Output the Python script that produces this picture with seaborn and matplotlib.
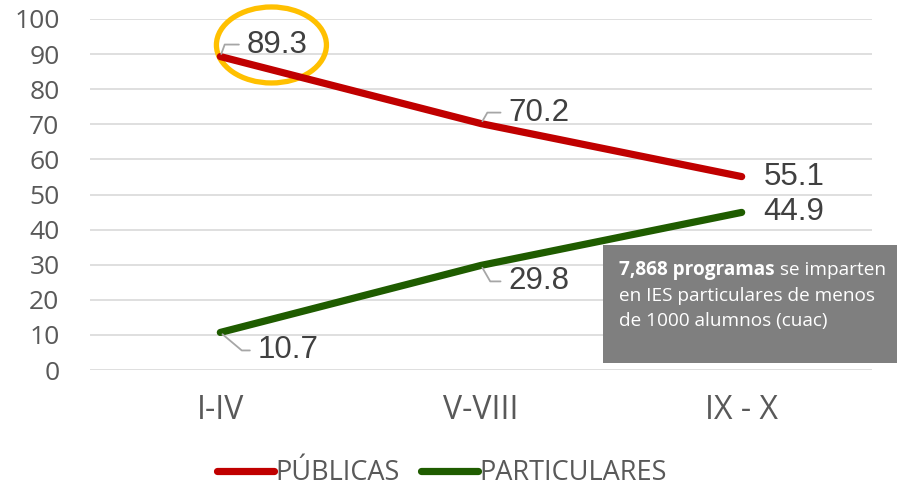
import matplotlib
matplotlib.use("Agg")
import matplotlib.pyplot as plt
import seaborn as sns
import pandas as pd
from matplotlib.patches import Ellipse, Rectangle

# datos
categorias = ["I-IV", "V-VIII", "IX - X"]
publicas = [89.3, 70.2, 55.1]
particulares = [10.7, 29.8, 44.9]
series = ["PÚBLICAS", "PARTICULARES"]
colores = ["#C00000", "#1F5C00"]

df = pd.DataFrame({
    "grupo": categorias * 2,
    "valor": publicas + particulares,
    "tipo": [series[0]] * 3 + [series[1]] * 3,
})

sns.set_style("white")
plt.rcParams["font.family"] = ["Open Sans", "DejaVu Sans"]

fig = plt.figure(figsize=(8.97, 4.88), dpi=100)
ax = fig.add_axes([90 / 897, 1 - 370 / 488, 782 / 897, 351 / 488])

sns.lineplot(data=df, x="grupo", y="valor", hue="tipo", palette=colores,
             linewidth=5.2, sort=False, ax=ax, legend=True)
for ln in ax.get_lines():
    ln.set_solid_capstyle("round")
    ln.set_clip_on(False)

ax.set_xlim(-0.5, 2.5)
ax.set_ylim(0, 100)
ax.set_yticks(range(0, 101, 10))
ax.grid(axis="y", color="#D9D9D9", linewidth=1.2)
ax.set_axisbelow(True)
for s in ax.spines.values():
    s.set_visible(False)
ax.tick_params(axis="y", length=0, pad=22, labelsize=19, labelcolor="#595959")
ax.tick_params(axis="x", length=0, pad=17, labelsize=23, labelcolor="#595959")
ax.set_xlabel("")
ax.set_ylabel("")

# etiquetas de datos (desplazamiento en pixeles)
offsets_pub = [(26, 12, 70), (27, 11, 60), (22, 0, None)]
offsets_par = [(37, -18, -40), (27, -16, -60), (22, 0, None)]
for vals, offs in [(publicas, offsets_pub), (particulares, offsets_par)]:
    for i, (v, (dx, dy, ang)) in enumerate(zip(vals, offs)):
        kw = {}
        if ang is not None:
            kw["arrowprops"] = dict(arrowstyle="-", color="#A6A6A6", lw=1.3,
                                    shrinkA=3, shrinkB=2,
                                    connectionstyle=f"angle,angleA=0,angleB={ang},rad=0")
        ax.annotate(f"{v}", xy=(i, v), xytext=(dx, dy), textcoords="offset pixels",
                    ha="left", va="center", fontsize=22.5, color="#404040",
                    family=["Liberation Sans", "DejaVu Sans"], **kw)

# circulo naranja
ax.add_patch(Ellipse((0.232, 0.926), 0.1407, 0.2165, transform=ax.transAxes,
                     fill=False, edgecolor="#FFC000", linewidth=3.8, clip_on=False))

# leyenda
sns.move_legend(ax, "center", bbox_to_anchor=(0.493, 1 - 473 / 488),
                bbox_transform=fig.transFigure, ncol=2, frameon=False, title=None,
                fontsize=19.5, handlelength=2.1, handletextpad=0.05, columnspacing=0.8)
leg = ax.get_legend()
for t in leg.get_texts():
    t.set_color("#595959")
for h in leg.get_lines():
    h.set_linewidth(5.2)
    h.set_solid_capstyle("round")

# cuadro de texto gris
fig.patches.append(Rectangle((603 / 897, 1 - 363 / 488), 294 / 897, 118 / 488,
                             transform=fig.transFigure, facecolor="#7F7F7F",
                             edgecolor="none", zorder=5))
fig.canvas.draw()
r = fig.canvas.get_renderer()
fs = 13.7
t1 = fig.text(619 / 897, 1 - 270 / 488, "7,868 programas", color="white",
              fontsize=fs, fontweight="bold", va="center", ha="left", zorder=6)
bb = t1.get_window_extent(r)
fig.text(bb.x1 / 897, 1 - 270 / 488, " se imparten", color="white",
         fontsize=fs, va="center", ha="left", zorder=6)
fig.text(619 / 897, 1 - 296 / 488, "en IES particulares de menos", color="white",
         fontsize=fs, va="center", ha="left", zorder=6)
fig.text(619 / 897, 1 - 321 / 488, "de 1000 alumnos (cuac)", color="white",
         fontsize=fs, va="center", ha="left", zorder=6)

fig.savefig("out.png", dpi=100)
